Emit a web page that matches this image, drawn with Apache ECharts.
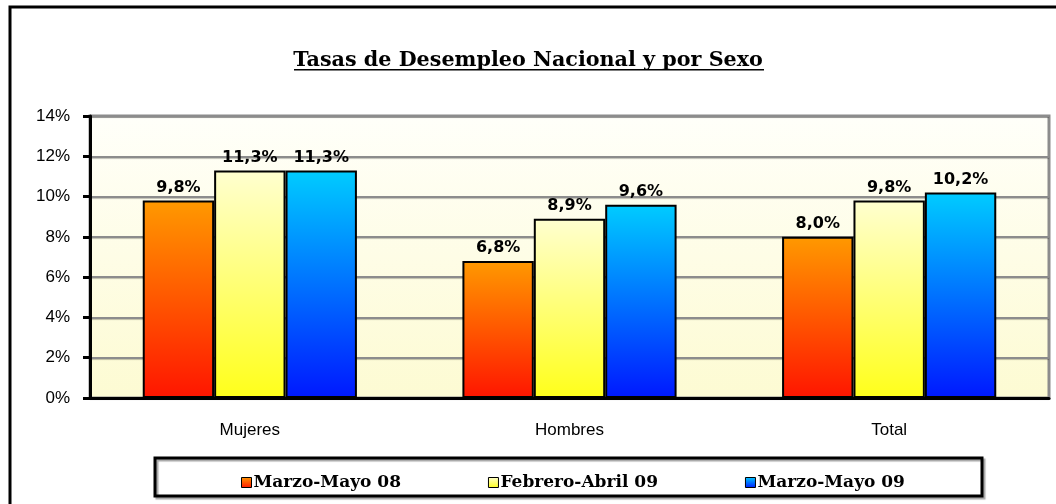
<!DOCTYPE html>
<html>
<head>
<meta charset="utf-8">
<script src="https://cdn.jsdelivr.net/npm/echarts@6/dist/echarts.min.js"></script>
<style>
  html, body { margin: 0; padding: 0; background: #fff; }
  #chart { width: 1056px; height: 504px; }
</style>
</head>
<body>
<div id="chart"></div>
<script>
  // datos
  var categorias = ['Mujeres', 'Hombres', 'Total']
  var periodos = ['Marzo-Mayo 08', 'Febrero-Abril 09', 'Marzo-Mayo 09']
  var marzoMayo08 = [9.8, 6.8, 8.0]
  var febreroAbril09 = [11.3, 8.9, 9.8]
  var marzoMayo09 = [11.3, 9.6, 10.2]

  var chart = echarts.init(document.getElementById('chart'))

  function grad(top, bottom) {
    return new echarts.graphic.LinearGradient(0, 0, 0, 1, [
      { offset: 0, color: top },
      { offset: 1, color: bottom }
    ])
  }

  var labelOption = {
    show: true,
    position: 'top',
    distance: 5,
    fontFamily: 'DejaVu Sans',
    fontWeight: 'bold',
    fontSize: 16,
    color: '#000',
    formatter: function (p) {
      return p.value.toFixed(1).replace('.', ',') + '%'
    }
  }

  function serie(name, data, top, bottom) {
    return {
      name: name,
      type: 'bar',
      data: data,
      barGap: '0%',
      barCategoryGap: '33%',
      itemStyle: {
        color: grad(top, bottom),
        borderColor: '#000',
        borderWidth: 2
      },
      label: labelOption
    }
  }

  chart.setOption({
    animation: false,
    title: {
      text: 'Tasas de Desempleo Nacional y por Sexo',
      left: 'center',
      top: 45,
      textStyle: {
        fontFamily: 'DejaVu Serif',
        fontWeight: 'bold',
        fontSize: 20.7,
        color: '#000'
      }
    },
    grid: {
      left: 90,
      right: 7,
      top: 116,
      bottom: 106,
      show: true,
      borderColor: '#8c8c8c',
      borderWidth: 3,
      backgroundColor: grad('#fffffa', '#fdfbd2')
    },
    legend: {
      data: periodos,
      left: 236,
      top: 469,
      itemWidth: 10,
      itemHeight: 10,
      itemGap: 87,
      icon: 'rect',
      itemStyle: { borderColor: '#000', borderWidth: 1 },
      textStyle: {
        fontFamily: 'DejaVu Serif',
        fontWeight: 'bold',
        fontSize: 17,
        color: '#000',
        padding: [0, 0, 0, -3]
      }
    },
    xAxis: {
      type: 'category',
      data: categorias,
      axisLine: { lineStyle: { color: '#000', width: 3 } },
      axisTick: { show: false },
      axisLabel: {
        margin: 24,
        fontFamily: 'Liberation Sans',
        fontSize: 17,
        color: '#000'
      }
    },
    yAxis: {
      type: 'value',
      min: 0,
      max: 14,
      interval: 2,
      axisLine: { show: true, lineStyle: { color: '#000', width: 3 } },
      axisTick: { show: true, length: 7, lineStyle: { color: '#000', width: 3 } },
      axisLabel: {
        formatter: '{value}%',
        margin: 20,
        fontFamily: 'Liberation Sans',
        fontSize: 17,
        color: '#000'
      },
      splitLine: {
        lineStyle: {
          color: '#8c8c8c',
          width: 2,
          shadowColor: 'rgba(0,0,0,0.25)',
          shadowOffsetY: 1,
          shadowBlur: 1
        }
      }
    },
    graphic: [
      {
        type: 'rect',
        shape: { x: 10, y: 7, width: 1070, height: 520 },
        style: { fill: 'none', stroke: '#000', lineWidth: 3 },
        silent: true
      },
      {
        type: 'rect',
        shape: { x: 155, y: 458, width: 827, height: 38 },
        style: {
          fill: 'none',
          stroke: '#000',
          lineWidth: 3,
          shadowColor: 'rgba(0,0,0,0.35)',
          shadowOffsetX: 2,
          shadowOffsetY: 2,
          shadowBlur: 1
        },
        silent: true
      },
      {
        type: 'rect',
        shape: { x: 294, y: 69, width: 470, height: 1.5 },
        style: { fill: '#000' },
        silent: true
      }
    ],
    series: [
      serie(periodos[0], marzoMayo08, '#ff9900', '#ff1500'),
      serie(periodos[1], febreroAbril09, '#ffffd0', '#ffff1a'),
      serie(periodos[2], marzoMayo09, '#00ccff', '#0018ff')
    ]
  })
</script>
</body>
</html>
